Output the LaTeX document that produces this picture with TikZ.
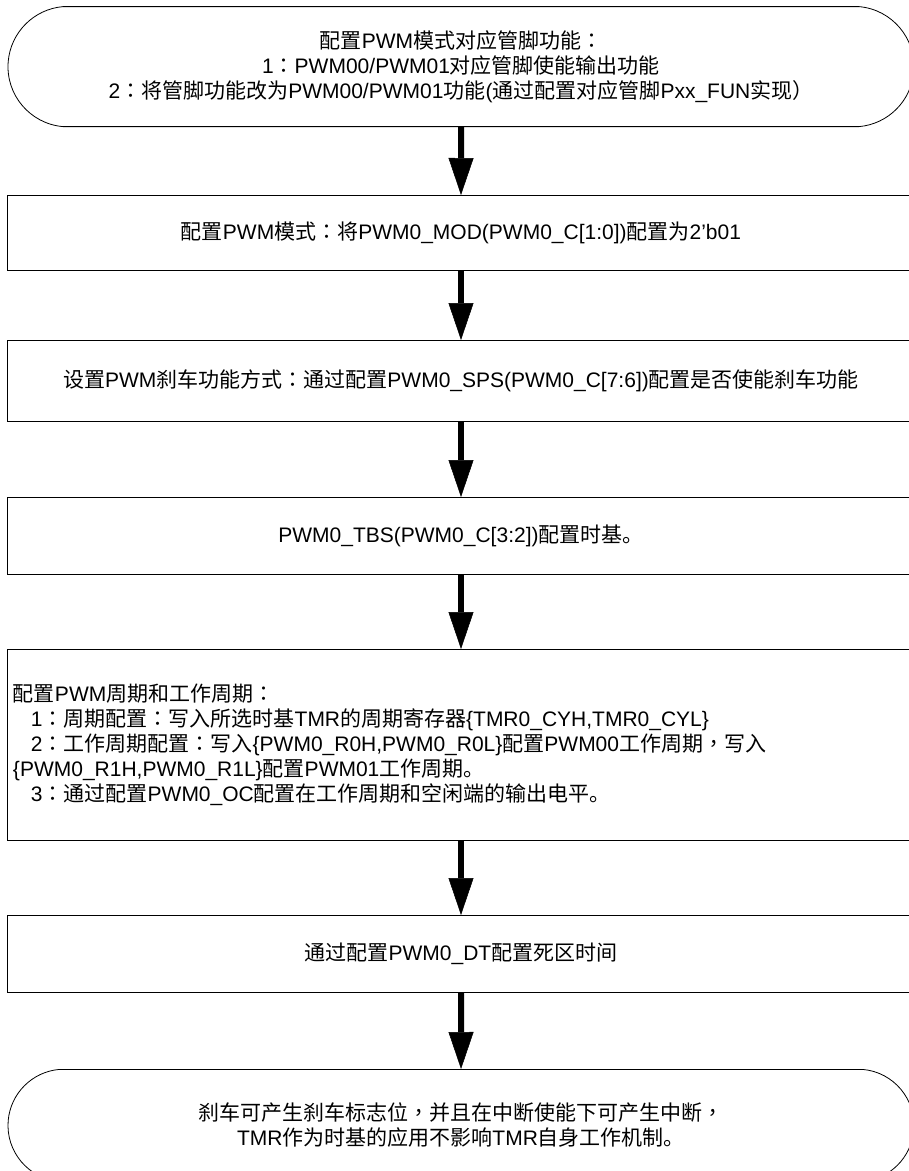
\documentclass[tikz,border=0pt]{standalone}
\usepackage{fontspec}
\setmainfont{Liberation Sans}
\newfontfamily\cjkfont{Noto Sans CJK SC}
\newfontfamily\cjkpunctfont{Noto Sans CJK TC}
\usepackage{tikz}
\usetikzlibrary{matrix, arrows.meta, shapes.misc}

% switch to the CJK font for Chinese characters and full-width punctuation
\XeTeXinterchartokenstate=1
\newXeTeXintercharclass\cjkclass
\newXeTeXintercharclass\cjkpunctclass
\newcommand\setcjkrange[2]{%
  \count255=#1\relax
  \loop\ifnum\count255<#2\relax
    \XeTeXcharclass\count255=\cjkclass
    \advance\count255 by 1
  \repeat}
\setcjkrange{"3000}{"3040}
\setcjkrange{"4E00}{"A000}
\setcjkrange{"FF00}{"FFF0}
% centred colon and comma
\XeTeXcharclass"FF1A=\cjkpunctclass
\XeTeXcharclass"FF0C=\cjkpunctclass
\XeTeXinterchartoks 0 \cjkclass = {\cjkfont}
\XeTeXinterchartoks 4095 \cjkclass = {\cjkfont}
\XeTeXinterchartoks \cjkpunctclass \cjkclass = {\cjkfont}
\XeTeXinterchartoks \cjkclass 0 = {\rmfamily}
\XeTeXinterchartoks \cjkclass 4095 = {\rmfamily}
\XeTeXinterchartoks 0 \cjkpunctclass = {\cjkpunctfont}
\XeTeXinterchartoks 4095 \cjkpunctclass = {\cjkpunctfont}
\XeTeXinterchartoks \cjkclass \cjkpunctclass = {\cjkpunctfont}
\XeTeXinterchartoks \cjkpunctclass 0 = {\rmfamily}
\XeTeXinterchartoks \cjkpunctclass 4095 = {\rmfamily}

\begin{document}
\begin{tikzpicture}[
  every node/.style={font=\fontsize{21}{25}\selectfont},
  stepbox/.style={draw, line width=1pt, minimum width=906pt, inner sep=5pt, align=center},
  termbox/.style={draw, rounded rectangle, rounded rectangle arc length=170,
    line width=0.8pt, minimum width=906pt, align=center},
  flow/.style={line width=6pt, -{Triangle[width=25pt,length=37pt,line width=0.5pt]}}
]
\useasboundingbox (0,0) rectangle (909pt,-1171pt);
\matrix (m) at (461pt,-6pt) [anchor=north, inner sep=0pt, row sep=68pt]{
\node[termbox, minimum height=120pt](cfgpin){配置PWM模式对应管脚功能：\\1：PWM00/PWM01对应管脚使能输出功能\\2：将管脚功能改为PWM00/PWM01功能(通过配置对应管脚Pxx\_FUN实现）}; \\
\node[stepbox, minimum height=75pt](mode){配置PWM模式：将PWM0\_MOD(PWM0\_C[1:0])配置为2'b01}; \\[1pt]
\node[stepbox, minimum height=81pt](brake){设置PWM刹车功能方式：通过配置PWM0\_SPS(PWM0\_C[7:6])配置是否使能刹车功能}; \\[7pt]
\node[stepbox, minimum height=77pt](timebase){PWM0\_TBS(PWM0\_C[3:2])配置时基。}; \\[6pt]
\node[stepbox, minimum height=191pt, text width=896pt, align=left](period){配置PWM周期和工作周期：\\
\hspace*{18pt}1：周期配置：写入所选时基TMR的周期寄存器\{TMR0\_CYH,TMR0\_CYL\}\\
\hspace*{18pt}2：工作周期配置：写入\{PWM0\_R0H,PWM0\_R0L\}配置PWM00工作周期，写入\\
\{PWM0\_R1H,PWM0\_R1L\}配置PWM01工作周期。\\
\hspace*{18pt}3：通过配置PWM0\_OC配置在工作周期和空闲端的输出电平。}; \\[6pt]
\node[stepbox, minimum height=77pt](deadzone){通过配置PWM0\_DT配置死区时间}; \\[8pt]
\node[termbox, minimum height=112pt](endnote){刹车可产生刹车标志位，并且在中断使能下可产生中断，\\TMR作为时基的应用不影响TMR自身工作机制。}; \\
};
\draw[flow] (cfgpin) -- (mode);
\draw[flow] (mode) -- (brake);
\draw[flow] (brake) -- (timebase);
\draw[flow] (timebase) -- (period);
\draw[flow] (period) -- (deadzone);
\draw[flow] (deadzone) -- (endnote);
\end{tikzpicture}
\end{document}
